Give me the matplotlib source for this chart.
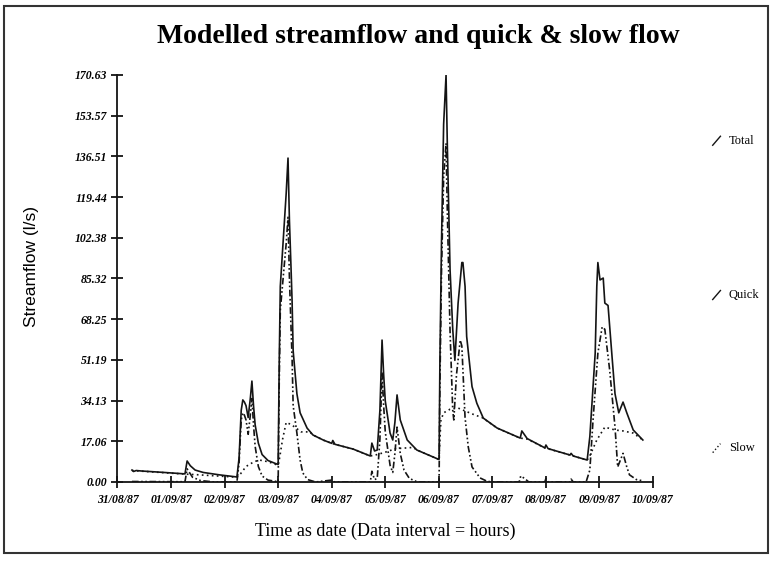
import pandas as pd
import matplotlib.pyplot as plt
import matplotlib.dates as mdates
from matplotlib.patches import Rectangle
from matplotlib.lines import Line2D

# Time in days since 31/08/87 00:00, values in l/s
t_total = [0.27, 0.30, 0.35, 0.45, 0.80, 1.26, 1.30, 1.36, 1.45, 1.60, 1.90, 2.23,
           2.27, 2.31, 2.34, 2.37, 2.40, 2.44, 2.48, 2.51, 2.54, 2.57, 2.63, 2.70, 2.81,
           3.00, 3.02, 3.04, 3.15, 3.184, 3.21, 3.24, 3.26, 3.28, 3.35, 3.41, 3.54, 3.65,
           3.85, 4.00, 4.02, 4.06, 4.40, 4.72, 4.75, 4.80, 4.85, 4.90, 4.94, 4.97, 5.00,
           5.09, 5.14, 5.18, 5.22, 5.28, 5.41, 5.59, 5.985, 6.005, 6.02, 6.05, 6.09,
           6.135, 6.16, 6.21, 6.26, 6.30, 6.36, 6.43, 6.45, 6.49, 6.52, 6.62, 6.71, 6.83,
           7.09, 7.52, 7.55, 7.65, 7.98, 8.00, 8.04, 8.45, 8.47, 8.51, 8.77, 8.82, 8.92,
           8.95, 8.97, 9.01, 9.07, 9.10, 9.16, 9.24, 9.29, 9.36, 9.44, 9.51, 9.63, 9.81]
total = [5.0, 4.4, 4.8, 4.6, 4.1, 3.4, 8.8, 6.8, 5.0, 4.0, 3.0, 2.1,
         10.0, 30.0, 34.4, 33.5, 32.0, 27.0, 35.0, 42.3, 32.0, 24.0, 16.3, 11.5, 9.0,
         7.3, 50.0, 82.0, 121.0, 135.8, 110.0, 90.0, 76.0, 55.0, 37.0, 29.0, 22.6, 19.7,
         17.5, 16.2, 17.4, 15.8, 13.8, 10.9, 16.3, 13.0, 13.4, 30.0, 59.5, 45.0, 34.0,
         20.5, 17.6, 25.0, 36.5, 26.0, 17.6, 13.4, 9.6, 9.5, 50.0, 100.0, 150.0,
         170.6, 140.0, 89.0, 64.0, 51.0, 75.0, 92.0, 92.0, 82.0, 61.0, 40.0, 33.0, 26.8,
         22.6, 18.4, 21.4, 18.2, 14.3, 15.5, 14.0, 11.3, 12.0, 10.9, 9.2, 19.0, 54.0,
         82.0, 92.0, 84.7, 85.5, 75.0, 74.0, 51.0, 37.0, 29.0, 33.5, 29.0, 21.8, 17.6]

t_quick = [0.27, 1.26, 1.30, 1.40, 1.55, 1.80, 2.23, 2.27, 2.31, 2.34, 2.37, 2.40, 2.44,
           2.48, 2.51, 2.54, 2.57, 2.63, 2.70, 2.81, 3.00, 3.02, 3.04, 3.15, 3.184, 3.21,
           3.24, 3.26, 3.28, 3.35, 3.41, 3.46, 3.55, 3.70, 4.00, 4.05, 4.72, 4.75, 4.80,
           4.85, 4.90, 4.94, 4.97, 5.00, 5.09, 5.14, 5.18, 5.22, 5.28, 5.35, 5.45, 5.60,
           6.005, 6.02, 6.05, 6.09, 6.135, 6.16, 6.21, 6.26, 6.28, 6.33, 6.40, 6.43, 6.49,
           6.55, 6.62, 6.77, 6.90, 7.00, 7.50, 7.53, 7.60, 7.68, 7.98, 8.00, 8.04, 8.45,
           8.47, 8.51, 8.75, 8.82, 8.88, 8.97, 9.05, 9.10, 9.19, 9.29, 9.34, 9.44, 9.51,
           9.56, 9.69, 9.81]
quick = [0.2, 0.1, 5.5, 2.0, 0.6, 0.0, 0.0, 8.0, 26.0, 29.0, 28.0, 26.0, 20.0,
         28.0, 35.0, 24.0, 15.0, 6.5, 2.5, 0.8, 0.1, 42.0, 72.0, 100.0, 111.0, 86.0,
         65.0, 52.0, 32.0, 20.5, 9.2, 3.8, 1.0, 0.0, 0.8, 0.0, 0.0, 4.5, 1.0,
         1.5, 18.0, 46.0, 32.0, 21.0, 7.0, 4.0, 12.0, 23.0, 12.0, 5.0, 1.5, 0.0,
         0.0, 40.0, 88.0, 128.0, 142.0, 112.0, 63.0, 30.0, 26.0, 45.0, 59.5, 57.0, 27.0,
         14.7, 6.3, 1.7, 0.3, 0.0, 0.0, 2.5, 1.5, 0.0, 0.0, 1.5, 0.0, 0.0,
         1.2, 0.0, 0.0, 5.0, 26.0, 54.0, 65.0, 64.0, 47.0, 23.0, 6.3, 12.0, 6.3,
         3.0, 1.0, 0.5]

t_slow = [0.27, 1.26, 1.45, 2.23, 2.30, 2.40, 2.55, 2.65, 2.81, 3.00, 3.03, 3.08, 3.15,
          3.25, 3.43, 3.59, 3.65, 3.85, 4.00, 4.06, 4.40, 4.72, 4.85, 5.00, 5.20, 5.35,
          5.52, 5.59, 5.985, 6.005, 6.02, 6.04, 6.09, 6.21, 6.36, 6.52, 6.66, 6.81,
          7.09, 7.52, 7.65, 7.98, 8.45, 8.77, 8.82, 8.95, 9.10, 9.29, 9.44, 9.63, 9.81]
slow = [4.8, 3.3, 3.1, 2.0, 3.5, 6.5, 8.5, 9.2, 8.5, 7.0, 10.5, 17.6, 25.0,
        24.0, 21.0, 21.0, 19.7, 17.5, 16.2, 15.8, 13.8, 10.9, 11.5, 12.5, 14.0, 14.2,
        14.5, 13.4, 9.6, 9.5, 18.0, 26.0, 29.0, 30.5, 31.0, 29.5, 28.2, 27.0,
        22.6, 18.4, 18.0, 14.3, 11.3, 9.2, 11.0, 17.6, 23.0, 21.8, 21.4, 20.5, 17.6]

yticks = [0.00, 17.06, 34.13, 51.19, 68.25, 85.32, 102.38, 119.44, 136.51, 153.57, 170.63]

start = pd.Timestamp('1987-08-31')


def to_dates(days):
    return start + pd.to_timedelta(days, unit='D')


plt.rcParams['font.family'] = ['Liberation Serif', 'DejaVu Serif']

fig = plt.figure(figsize=(7.73, 5.63), dpi=100)
ax = fig.add_axes([0.152, 0.1439, 0.6928, 0.7229])

ink = '#141414'
ax.plot(to_dates(t_total), total, color=ink, linewidth=1.2, linestyle='-')
ax.plot(to_dates(t_quick), quick, color=ink, linewidth=1.2, linestyle=(0, (4, 1.5, 1, 1.5, 1, 1.5)))
ax.plot(to_dates(t_slow), slow, color=ink, linewidth=1.2, linestyle=(0, (1, 2)))

ax.set_xlim(start, start + pd.Timedelta(days=10))
ax.set_ylim(0, 170.63)
ax.set_xticks(pd.date_range(start, periods=11, freq='D'))
ax.xaxis.set_major_formatter(mdates.DateFormatter('%d/%m/%y'))
ax.set_yticks(yticks)
ax.set_yticklabels([f'{v:.2f}' for v in yticks])

for side in ['top', 'right']:
    ax.spines[side].set_visible(False)
for side in ['left', 'bottom']:
    ax.spines[side].set_linewidth(1.3)
    ax.spines[side].set_color(ink)
ax.tick_params(direction='inout', length=9, width=1.3, color=ink)
ax.tick_params(axis='x', pad=4)
ax.tick_params(axis='y', pad=3)
for lab in ax.get_xticklabels() + ax.get_yticklabels():
    lab.set_fontstyle('italic')
    lab.set_fontsize(8.5)
    lab.set_fontweight('bold')

ax.set_xlabel('Time as date (Data interval = hours)', fontsize=13, labelpad=12)
ax.set_ylabel('Streamflow (l/s)', fontsize=12.5, family=['Liberation Sans', 'DejaVu Sans'])
ax.yaxis.set_label_coords(-0.147, 0.53)
fig.text(0.541, 0.936, 'Modelled streamflow and quick & slow flow',
         ha='center', va='center', fontsize=20, fontweight='bold')

# legend at the right side
legend_items = [('Total', 0.750, '-'), ('Quick', 0.476, '-'), ('Slow', 0.204, ':')]
for name, yy, ls in legend_items:
    fig.add_artist(Line2D([0.922, 0.932], [yy - 0.008, yy + 0.008], color=ink,
                          linewidth=1.0, linestyle=ls, transform=fig.transFigure))
    fig.text(0.943, yy, name, fontsize=9, va='center', ha='left')

# outer frame
fig.add_artist(Rectangle((0.005, 0.018), 0.989, 0.972, fill=False, edgecolor='#333333',
                         linewidth=1.5, transform=fig.transFigure))

plt.savefig('out.png', dpi=100)
